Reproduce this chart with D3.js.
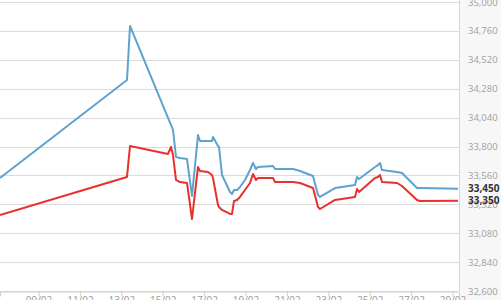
<!DOCTYPE html>
<html>
<head>
<meta charset="utf-8">
<script src="https://cdn.jsdelivr.net/npm/d3@7"></script>
<style>
  html, body { margin: 0; padding: 0; background: #fff; overflow: hidden; }
  svg { display: block; font-family: "Open Sans", sans-serif; }
</style>
</head>
<body>
<div id="chart"></div>
<script>
// sample times (Feb 2024) shared by both series
var times = [
  "2024-02-07T03:20", "2024-02-13T06:35", "2024-02-13T10:04", "2024-02-15T06:07",
  "2024-02-15T09:36", "2024-02-15T11:55", "2024-02-15T15:23", "2024-02-15T20:02",
  "2024-02-16T04:09", "2024-02-16T09:56", "2024-02-16T16:54", "2024-02-16T19:13",
  "2024-02-17T04:30", "2024-02-17T09:08", "2024-02-17T10:17", "2024-02-17T16:05",
  "2024-02-17T17:15", "2024-02-17T20:44", "2024-02-18T06:00", "2024-02-18T08:19",
  "2024-02-18T10:38", "2024-02-18T14:07", "2024-02-18T17:36", "2024-02-18T23:23",
  "2024-02-19T05:11", "2024-02-19T08:40", "2024-02-19T12:09", "2024-02-19T14:28",
  "2024-02-20T07:52", "2024-02-20T10:11", "2024-02-21T07:02", "2024-02-21T15:10",
  "2024-02-22T06:14", "2024-02-22T12:02", "2024-02-22T14:21", "2024-02-23T07:44",
  "2024-02-24T06:56", "2024-02-24T09:15", "2024-02-24T11:34", "2024-02-25T06:07",
  "2024-02-25T09:35", "2024-02-25T11:55", "2024-02-25T14:14", "2024-02-26T07:37",
  "2024-02-26T13:25", "2024-02-27T06:49", "2024-02-27T10:17", "2024-02-29T06:21"
]

var blueValues = [
  33538, 34352, 34801, 34037, 33979, 33937, 33713, 33705,
  33696, 33389, 33896, 33846, 33846, 33846, 33879, 33804,
  33796, 33563, 33422, 33406, 33439, 33439, 33464, 33522,
  33605, 33663, 33613, 33630, 33638, 33613, 33613, 33597,
  33555, 33397, 33381, 33455, 33480, 33547, 33530, 33630,
  33646, 33663, 33605, 33588, 33580, 33455, 33455, 33450
]

var redValues = [
  33231, 33547, 33804, 33738, 33796, 33729, 33522, 33505,
  33497, 33198, 33630, 33597, 33588, 33563, 33538, 33314,
  33298, 33273, 33240, 33240, 33348, 33356, 33381, 33439,
  33497, 33572, 33522, 33538, 33538, 33505, 33505, 33497,
  33455, 33298, 33281, 33356, 33381, 33447, 33422, 33538,
  33547, 33563, 33505, 33497, 33472, 33356, 33348, 33350
]

var yTicks = [32600, 32840, 33080, 33320, 33560, 33800, 34040, 34280, 34520, 34760, 35000]
var lastLabels = ["33,450", "33,350"]

var width = 501, height = 300
var plotRight = 459, plotTop = 2, plotBottom = 291

var parse = d3.timeParse("%Y-%m-%dT%H:%M")
var dates = times.map(parse)

var x = d3.scaleTime()
  .domain([parse("2024-02-07T03:20"), parse("2024-02-29T07:30")])
  .range([0, plotRight])

var y = d3.scaleLinear()
  .domain([32600, 35000])
  .range([plotBottom, plotTop])

var svg = d3.select("#chart").append("svg")
  .attr("width", width)
  .attr("height", height)

// grey strip behind the value axis
svg.append("rect")
  .attr("x", plotRight + 1)
  .attr("y", 0)
  .attr("width", width - plotRight)
  .attr("height", height)
  .attr("fill", "#f7f7f7")

// horizontal grid
svg.append("g")
  .selectAll("line")
  .data(yTicks)
  .enter().append("line")
    .attr("x1", 0)
    .attr("x2", plotRight)
    .attr("y1", function(d){ return Math.round(y(d)) + 0.5 })
    .attr("y2", function(d){ return Math.round(y(d)) + 0.5 })
    .attr("stroke", "#dcdcdc")
    .attr("stroke-width", 1.2)

// right border of plot
svg.append("line")
  .attr("x1", plotRight + 0.5).attr("x2", plotRight + 0.5)
  .attr("y1", 0).attr("y2", plotBottom)
  .attr("stroke", "#d6d6d6")

// bottom axis
var xAxis = d3.axisBottom(x)
  .ticks(d3.timeDay.every(2))
  .tickFormat(d3.timeFormat("%d/%m"))
  .tickSize(5)
  .tickPadding(0)

var gx = svg.append("g")
  .attr("transform", "translate(0," + (plotBottom + 0.5) + ")")
  .call(xAxis)
gx.select(".domain").attr("stroke", "#cfcfcf")
gx.selectAll(".tick line").attr("stroke", "#cfcfcf")
gx.selectAll(".tick text")
  .attr("fill", "#9a9a9a")
  .style("font-size", "10px")
  .style("font-family", "'Open Sans', sans-serif")

// right value labels
svg.append("g")
  .selectAll("text")
  .data(yTicks)
  .enter().append("text")
    .attr("x", 468)
    .attr("y", function(d){ return y(d) + 3.5 })
    .text(d3.format(","))
    .attr("fill", "#a0a0a0")
    .style("font-size", "9.5px")

var line = d3.line()
  .x(function(d){ return x(d[0]) })
  .y(function(d){ return y(d[1]) })

var blueData = dates.map(function(d, i){ return [d, blueValues[i]] })
var redData = dates.map(function(d, i){ return [d, redValues[i]] })

svg.append("path")
  .datum(blueData)
  .attr("d", line)
  .attr("fill", "none")
  .attr("stroke", "#5ea3cf")
  .attr("stroke-width", 2)
  .attr("stroke-linejoin", "round")

svg.append("path")
  .datum(redData)
  .attr("d", line)
  .attr("fill", "none")
  .attr("stroke", "#e8302c")
  .attr("stroke-width", 2)
  .attr("stroke-linejoin", "round")

// last value labels
var lastVals = [blueValues[blueValues.length - 1], redValues[redValues.length - 1]]
svg.append("g")
  .selectAll("text")
  .data(lastVals)
  .enter().append("text")
    .attr("x", 468)
    .attr("y", function(d){ return y(d) + 3.5 })
    .text(function(d, i){ return lastLabels[i] })
    .attr("fill", "#333")
    .style("font-size", "10px")
    .style("font-weight", "bold")
</script>
</body>
</html>
